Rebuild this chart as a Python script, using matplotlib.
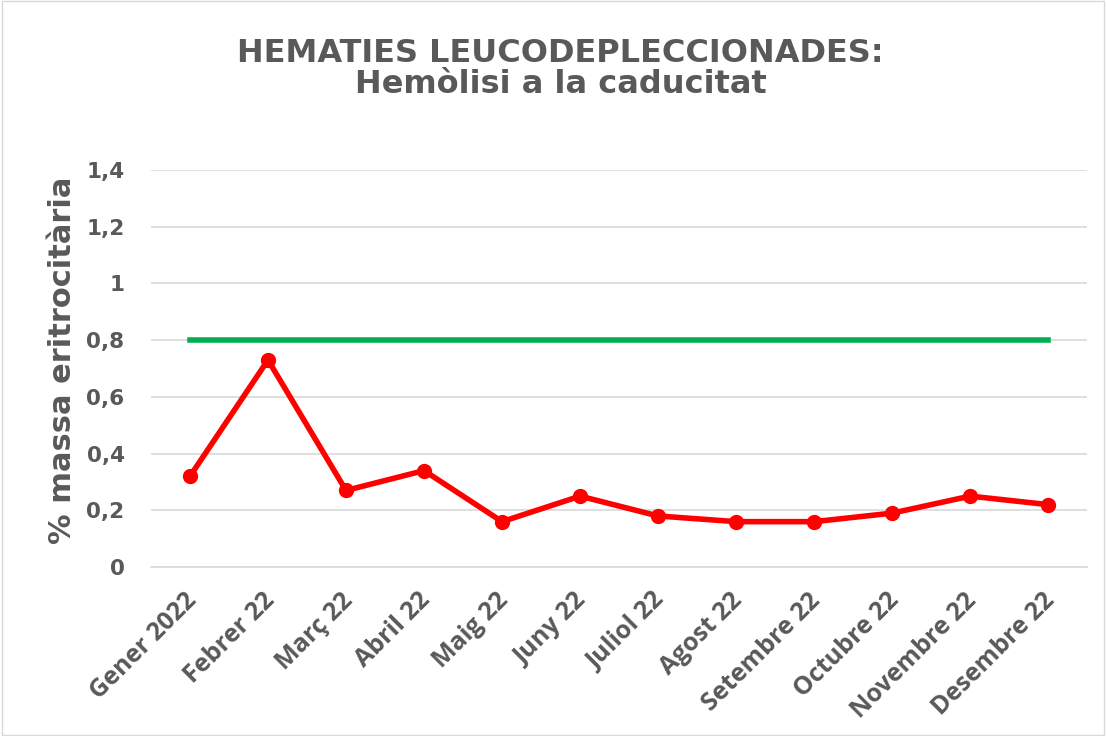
import numpy as np
import matplotlib.pyplot as plt
import matplotlib.transforms as mtransforms

months = ['Gener 2022', 'Febrer 22', 'Març 22', 'Abril 22', 'Maig 22', 'Juny 22',
          'Juliol 22', 'Agost 22', 'Setembre 22', 'Octubre 22', 'Novembre 22', 'Desembre 22']
hemolisi = [0.32, 0.73, 0.27, 0.34, 0.16, 0.25, 0.18, 0.16, 0.16, 0.19, 0.25, 0.22]
limit = [0.8] * len(months)
yticks = [0, 0.2, 0.4, 0.6, 0.8, 1.0, 1.2, 1.4]
ytick_labels = ['0', '0,2', '0,4', '0,6', '0,8', '1', '1,2', '1,4']

txt = '#595959'
plt.rcParams['font.family'] = ['DejaVu Sans']

fig = plt.figure(figsize=(11.06, 7.36), dpi=100)
ax = fig.add_axes([0.1365, 0.2296, 0.8465, 0.5394])

x = np.arange(len(months))
ax.plot(x, limit, color='#00B050', lw=4, solid_capstyle='projecting', zorder=2)
ax.plot(x, hemolisi, color='#FF0000', lw=4, marker='o', markersize=10, zorder=3)

ax.set_xlim(-0.5, len(months) - 0.5)
ax.set_ylim(0, 1.4)
ax.set_yticks(yticks)
ax.set_yticklabels(ytick_labels, fontsize=15.5, fontweight='bold', color=txt)
ax.set_xticks(x)
ax.set_xticklabels(months, rotation=45, ha='right', rotation_mode='anchor',
                   fontsize=18, fontweight='bold', color=txt, family='Open Sans')
ax.tick_params(axis='y', length=0, pad=19)
ax.tick_params(axis='x', length=0, pad=15)

# nudge rotated labels a little to the left, like the original
shift = mtransforms.ScaledTranslation(-6 / 100, 0, fig.dpi_scale_trans)
for lbl in ax.get_xticklabels():
    lbl.set_transform(lbl.get_transform() + shift)

ax.grid(axis='y', color='#D9D9D9', lw=1.2, zorder=0)
for s in ['top', 'right', 'left']:
    ax.spines[s].set_visible(False)
ax.spines['bottom'].set_color('#D9D9D9')
ax.spines['bottom'].set_linewidth(1.2)

ax.set_ylabel('% massa eritrocitària', fontsize=22, fontweight='bold', color=txt)
ax.yaxis.set_label_coords(-0.079, 0.52)

fig.text(0.507, 0.9158, 'HEMATIES LEUCODEPLECCIONADES:', ha='center', va='baseline',
         fontsize=23, fontweight='bold', color=txt)
fig.text(0.507, 0.8736, 'Hemòlisi a la caducitat', ha='center', va='baseline',
         fontsize=23, fontweight='bold', color=txt)

# chart border
fig.patches.append(plt.Rectangle((0.002, 0.002), 0.996, 0.996, transform=fig.transFigure,
                                 fill=False, edgecolor='#D9D9D9', lw=1))

fig.savefig('out.png', dpi=100)
